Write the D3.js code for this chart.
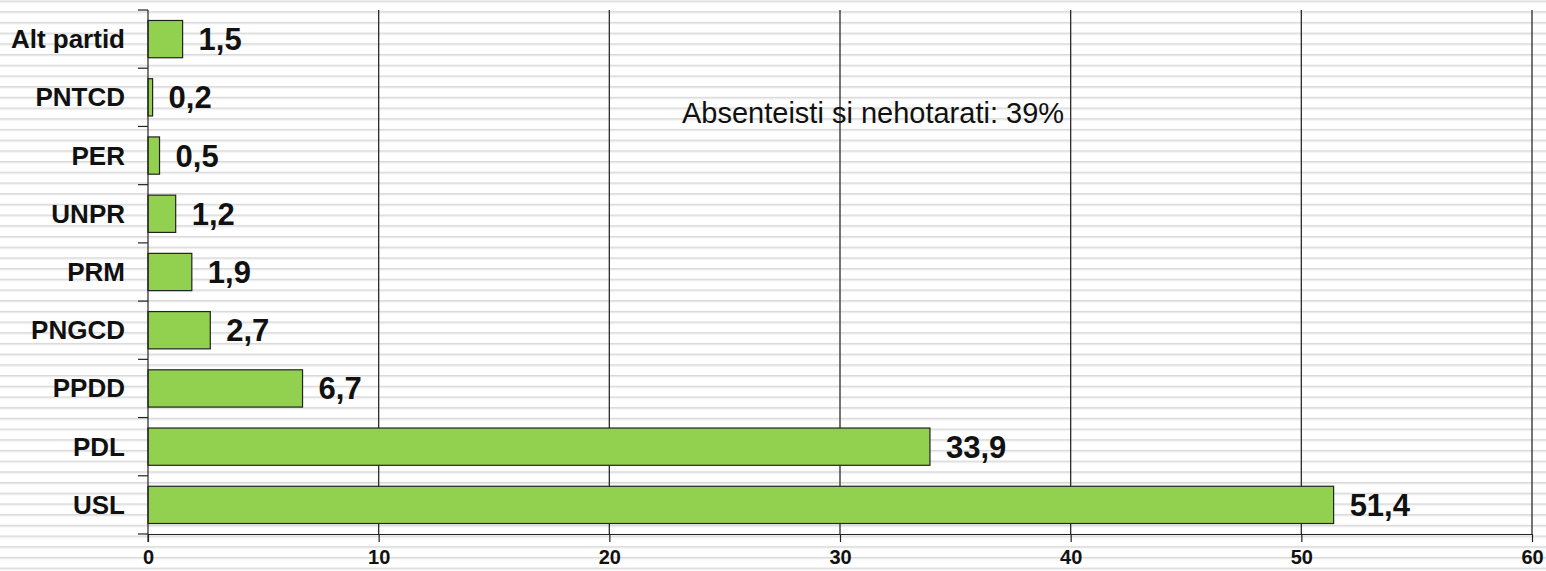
<!DOCTYPE html>
<html>
<head>
<meta charset="utf-8">
<script src="https://cdn.jsdelivr.net/npm/d3@7"></script>
<style>
  body { margin: 0; background: #fff; }
  svg { display: block; font-family: "Liberation Sans", Arial, sans-serif; }
</style>
</head>
<body>
<svg id="chart" width="1546" height="571"></svg>
<script>
// --- Data ---
const parties = ["Alt partid", "PNTCD", "PER", "UNPR", "PRM", "PNGCD", "PPDD", "PDL", "USL"];
const values = [1.5, 0.2, 0.5, 1.2, 1.9, 2.7, 6.7, 33.9, 51.4];
const xTicks = [0, 10, 20, 30, 40, 50, 60];
const note = "Absenteisti si nehotarati: 39%";

// --- Layout ---
const W = 1546, H = 571;
const plot = { left: 148, right: 1532, top: 10, bottom: 534 };

const svg = d3.select("#chart");

// striped page background (scan-line look of the original)
const defs = svg.append("defs");
const pat = defs.append("pattern")
    .attr("id", "stripes")
    .attr("patternUnits", "userSpaceOnUse")
    .attr("width", 20).attr("height", 10.7)
    .attr("y", 0.5);
pat.append("rect").attr("width", 20).attr("height", 10.7).attr("fill", "#fff");
pat.append("rect").attr("y", 0).attr("width", 20).attr("height", 1).attr("fill", "#d9d9d9");
pat.append("rect").attr("y", 1).attr("width", 20).attr("height", 1.2).attr("fill", "#e8e8e8");

svg.append("rect").attr("width", W).attr("height", H).attr("fill", "url(#stripes)");

// --- Scales ---
const x = d3.scaleLinear().domain([0, 60]).range([plot.left, plot.right]);
const y = d3.scaleBand().domain(parties).range([plot.top, plot.bottom]).paddingInner(0.36).paddingOuter(0.18);
const band = d3.scaleBand().domain(parties).range([plot.top, plot.bottom]);

// --- Vertical gridlines ---
svg.append("g")
    .selectAll("line")
    .data(xTicks.slice(1))
    .enter().append("line")
    .attr("x1", d => x(d)).attr("x2", d => x(d))
    .attr("y1", plot.top).attr("y2", plot.bottom)
    .attr("stroke", "#2a2a2a").attr("stroke-width", 1.3);

// --- Bars ---
svg.append("g")
    .selectAll("rect")
    .data(parties)
    .enter().append("rect")
    .attr("x", x(0))
    .attr("y", d => y(d))
    .attr("width", (d, i) => x(values[i]) - x(0))
    .attr("height", y.bandwidth())
    .attr("fill", "#92d050")
    .attr("stroke", "#222")
    .attr("stroke-width", 1.2);

// --- Value labels ---
svg.append("g")
    .selectAll("text")
    .data(parties)
    .enter().append("text")
    .attr("x", (d, i) => x(values[i]) + 16)
    .attr("y", d => y(d) + y.bandwidth() / 2 + 11)
    .text((d, i) => String(values[i]).replace(".", ","))
    .style("font-size", "31px")
    .style("font-weight", "bold")
    .attr("fill", "#111");

// --- Left axis (ticks on band boundaries) ---
const leftAxis = svg.append("g");
leftAxis.append("line")
    .attr("x1", plot.left).attr("x2", plot.left)
    .attr("y1", plot.top).attr("y2", plot.bottom + 8)
    .attr("stroke", "#222").attr("stroke-width", 1.2);
leftAxis.selectAll("line.tk")
    .data(parties.map(p => band(p)).concat([plot.bottom]))
    .enter().append("line")
    .attr("class", "tk")
    .attr("x1", plot.left - 10).attr("x2", plot.left)
    .attr("y1", d => d).attr("y2", d => d)
    .attr("stroke", "#222").attr("stroke-width", 1.2);
leftAxis.selectAll("text")
    .data(parties)
    .enter().append("text")
    .attr("x", 125)
    .attr("y", d => band(d) + band.bandwidth() / 2 + 9)
    .attr("text-anchor", "end")
    .text(d => d)
    .style("font-size", "26px")
    .style("font-weight", "bold")
    .attr("fill", "#111");

// --- Bottom axis ---
const xAxis = d3.axisBottom(x).tickValues(xTicks).tickSize(8).tickPadding(8).tickSizeOuter(0);
const gx = svg.append("g")
    .attr("transform", `translate(0,${plot.bottom})`)
    .call(xAxis);
gx.select(".domain").attr("stroke", "#222").attr("stroke-width", 1.2);
gx.selectAll(".tick line").attr("stroke", "#222").attr("stroke-width", 1.2);
gx.selectAll(".tick text")
    .attr("fill", "#111")
    .style("font-size", "20px")
    .style("font-weight", "bold")
    .style("font-family", "'Liberation Sans', Arial, sans-serif");

// --- Annotation ---
svg.append("text")
    .attr("x", 682)
    .attr("y", 122.5)
    .text(note)
    .style("font-size", "29px")
    .attr("fill", "#111");
</script>
</body>
</html>
